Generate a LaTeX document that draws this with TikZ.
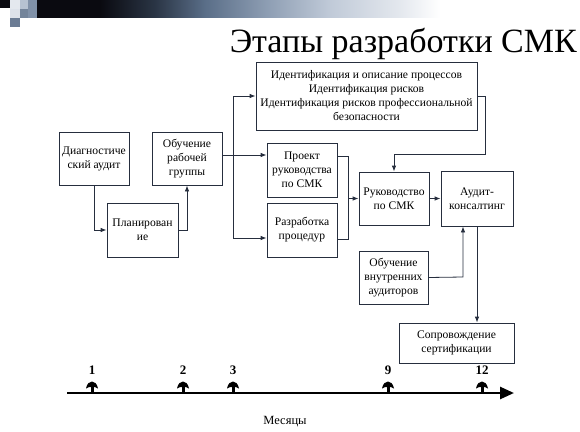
\documentclass[tikz,border=0pt]{standalone}
\usepackage{fontspec}
\setmainfont{Liberation Serif}
\usetikzlibrary{arrows.meta,calc}
\definecolor{ink}{RGB}{38,46,62}
\definecolor{cA}{RGB}{10,10,16}
\definecolor{cB}{RGB}{42,53,69}
\definecolor{cC}{RGB}{90,110,136}
\definecolor{cD}{RGB}{144,160,181}
\definecolor{cE}{RGB}{192,202,216}
\definecolor{cF}{RGB}{228,232,238}
\tikzset{
  stage/.style={draw=ink, line width=0.8pt, rectangle, align=center, inner sep=1pt,
    font=\fontsize{11.6}{14}\selectfont, text=black},
  link/.style={draw=ink, line width=0.8pt},
  arr/.style={link, -{Latex[length=6pt,width=4.5pt]}},
  month/.style={font=\fontsize{13}{14}\selectfont\bfseries, fill=white, inner sep=1pt}
}
\begin{document}
\begin{tikzpicture}[x=1pt,y=-1pt]
\useasboundingbox (0,0) rectangle (580,431);
% decorative header bar
\fill[cA] (0,0) rectangle (10,8);
\fill[cF] (10,0) rectangle (20,9);
\fill[cE!80!cD] (20,0) rectangle (28,9);
\fill[cD!70!cC] (28,0) rectangle (37,18);
\fill[cF!80!cE] (10,9) rectangle (20,18);
\fill[cC!85!white] (20,9) rectangle (28,18);
\fill[cC!90!white] (10,18) rectangle (20,27);
\shade[left color=cA, right color=cA] (37,0) rectangle (100,17);
\shade[left color=cA, right color=cB] (100,0) rectangle (155,17);
\shade[left color=cB, right color=cC] (155,0) rectangle (205,17);
\shade[left color=cC, right color=cD] (205,0) rectangle (270,17);
\shade[left color=cD, right color=cE] (270,0) rectangle (330,17);
\shade[left color=cE, right color=cF] (330,0) rectangle (400,17);
\shade[left color=cF, right color=white] (400,0) rectangle (440,17);
% title
\node[anchor=base east, inner sep=0pt, font=\fontsize{34}{38}\selectfont] (title) at (577,52) {Этапы разработки СМК};
% stages
\node[stage, minimum width=70pt, minimum height=53pt] (diag) at (94,158.5) {Диагностиче\\ский аудит};
\node[stage, minimum width=71pt, minimum height=54pt] (plan) at (142.5,230) {Планирован\\ие};
\node[stage, minimum width=70pt, minimum height=53pt] (obuch) at (187,158.5) {Обучение\\рабочей\\группы};
\node[stage, minimum width=221pt, minimum height=68pt] (ident) at (366.5,96) {Идентификация и описание процессов\\Идентификация рисков\\Идентификация рисков профессиональной\\безопасности};
\node[stage, minimum width=70pt, minimum height=54pt] (proekt) at (302,170) {Проект\\руководства\\по СМК};
\node[stage, minimum width=70pt, minimum height=54pt] (razr) at (302,230) {Разработка\\процедур};
\node[stage, minimum width=70pt, minimum height=53pt] (ruk) at (394,198.5) {Руководство\\по СМК};
\node[stage, minimum width=72pt, minimum height=55pt] (audit) at (477,198.5) {Аудит-\\консалтинг};
\node[stage, minimum width=69pt, minimum height=53pt] (obvn) at (393.5,277.5) {Обучение\\внутренних\\аудиторов};
\node[stage, minimum width=115pt, minimum height=40pt] (sopr) at (456.5,343) {Сопровождение\\сертификации};
% junctions
\coordinate (j1) at (233,155);
\coordinate (j2) at (233,238);
\coordinate (j3) at (348,156);
\coordinate (j4) at (348,239);
\coordinate (j5) at (485,154);
\coordinate (j6) at (463,277);
% connectors
\draw[arr] (diag.south) |- (plan.west);
\draw[arr] (plan.east) -| (obuch.south);
\draw[link] (obuch.east |- j1) -- (j1);
\draw[arr] (j1) -- (proekt.west |- j1);
\draw[arr] (j1) |- (ident.west);
\draw[arr] (j1) -- (j2) -- (razr.west |- j2);
\draw[link] (proekt.east |- j3) -- (j3) -- (j4) -- (razr.east |- j4);
\draw[arr] (j3 |- ruk.west) -- (ruk.west);
\draw[arr] (ident.east) -| (j5) -| (ruk.north);
\draw[arr] (ruk.east) -- (audit.west);
\draw[arr] (obvn.east) -- (j6) -- (j6 |- audit.south);
\draw[arr] (audit.south) -- (audit.south |- sopr.north);
% timeline
\coordinate (t0) at (67,393);
\coordinate (t1) at (514,393);
\draw[line width=2.6pt, -{Triangle[length=14pt,width=12pt]}] (t0) -- (t1);
\foreach \x/\lab in {92/1,183/2,233/3,388/9,482/12}{
  \draw[line width=3pt] (\x,393) -- (\x,385);
  \fill (\x-6,388.5) .. controls (\x-5,383.5) and (\x-2.5,381.5) .. (\x,381.5) .. controls (\x+2.5,381.5) and (\x+5,383.5) .. (\x+6,388.5) -- (\x+3,387) -- (\x-3,387) -- cycle;
  \node[month] (m\lab) at (\x,370.5) {\lab};
}
\node[font=\fontsize{12.5}{14}\selectfont] (months) at (285,422) {Месяцы};
\end{tikzpicture}
\end{document}
